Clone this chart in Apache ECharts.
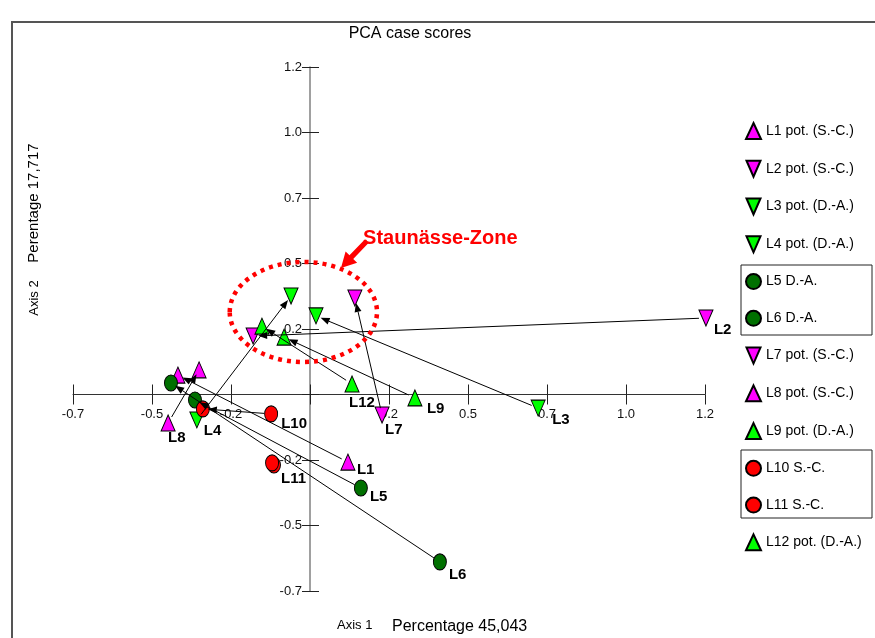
<!DOCTYPE html>
<html><head><meta charset="utf-8">
<script src="https://cdn.jsdelivr.net/npm/echarts@6/dist/echarts.min.js"></script>
<style>html,body{margin:0;padding:0;background:#fff}#c{width:875px;height:638px}</style>
</head><body><div id="c"></div>
<script>
// ---- data ----
const sites = ['L1','L2','L3','L4','L5','L6','L7','L8','L9','L10','L11','L12'];
const legendNames = ['L1 pot. (S.-C.)','L2 pot. (S.-C.)','L3 pot. (D.-A.)','L4 pot. (D.-A.)','L5 D.-A.','L6 D.-A.','L7 pot. (S.-C.)','L8 pot. (S.-C.)','L9 pot. (D.-A.)','L10 S.-C.','L11 S.-C.','L12 pot. (D.-A.)'];
// labelled (current) case scores
const actualX = [0.120, 1.253, 0.722, -0.358, 0.161, 0.411, 0.228, -0.449, 0.332, -0.123, -0.114, 0.133];
const actualY = [-0.258, 0.292, -0.052, -0.097, -0.357, -0.639, -0.078, -0.109, -0.013, -0.074, -0.269, 0.040];
// potential case scores (arrow targets)
const potX = [-0.418, -0.180, 0.019, -0.060, -0.364, -0.440, 0.142, -0.351, -0.082, -0.339, -0.120, -0.152];
const potY = [0.074, 0.223, 0.300, 0.376, -0.021, 0.044, 0.368, 0.094, 0.219, -0.055, -0.261, 0.261];
const hasArrow = [1,1,1,1,1,1,1,1,1,1,0,1];
const axisTicks = [-0.75, -0.5, -0.25, 0, 0.25, 0.5, 0.75, 1.0, 1.25];
const annotationText = 'Staunässe-Zone';
const zone = {cx: -0.021, cy: 0.315, rx: 0.233, ry: 0.191};
const zoneArrow = {from: [0.180, 0.586], to: [0.098, 0.483]};
const zoneTextAt = [0.168, 0.597];

// ---- styles ----
const TRI_UP = 'triangle';
const TRI_DOWN = 'path://M0,0 L14,0 L7,16 Z';
const MAG = '#FF00FF', LIME = '#00FF00', DKG = '#007000', RED = '#FF0000';
const siteStyle = [
  [TRI_UP, MAG], [TRI_DOWN, MAG], [TRI_DOWN, LIME], [TRI_DOWN, LIME],
  ['circle', DKG], ['circle', DKG], [TRI_DOWN, MAG], [TRI_UP, MAG],
  [TRI_UP, LIME], ['circle', RED], ['circle', RED], [TRI_UP, LIME]
];
const labelOffset = [[9,8],[8,12],[14,12],[7,11],[9,9],[9,13],[3,15],[0,15],[12,11],[10,10],[7,14],[-3,19]];
const FONT = 'Liberation Sans, Arial, sans-serif';

function fmt(v){ if (Math.abs(v) < 1e-9) return ''; const t = Math.trunc(Math.round(v*100)/10)/10; return t.toFixed(1); }

const chart = echarts.init(document.getElementById('c'));
const series = sites.map((s, i) => ({
  type: 'scatter', name: legendNames[i], z: 3,
  symbol: siteStyle[i][0],
  symbolSize: siteStyle[i][0] === 'circle' ? [13,16] : [14,16],
  itemStyle: {color: siteStyle[i][1], borderColor: '#000', borderWidth: 1, opacity: 1},
  label: {show: true, position: 'inside', align: 'left', verticalAlign: 'middle',
    offset: labelOffset[i], fontFamily: FONT, fontWeight: 'bold', fontSize: 15, color: '#000',
    formatter: p => p.data[2]},
  emphasis: {disabled: true},
  clip: false,
  data: [[actualX[i], actualY[i], s], [potX[i], potY[i], '']]
}));
const arrowData = sites.map((s,i)=>[actualX[i], actualY[i], potX[i], potY[i]]).filter((d,i)=>hasArrow[i]);
series.push({
  type: 'custom', z: 4, clip: false, silent: true,
  encode: {x: [0,2], y: [1,3]},
  data: arrowData,
  renderItem(params, api){
    const a = api.coord([api.value(0), api.value(1)]);
    const b = api.coord([api.value(2), api.value(3)]);
    const dx = b[0]-a[0], dy = b[1]-a[1], L = Math.hypot(dx,dy), ux = dx/L, uy = dy/L;
    const sg = 7, eg = 5, hl = 9, hw = 3.5;
    const s = [a[0]+ux*sg, a[1]+uy*sg];
    const t = [b[0]-ux*eg, b[1]-uy*eg];
    const base = [t[0]-ux*hl, t[1]-uy*hl];
    return {type: 'group', children: [
      {type: 'line', shape: {x1: s[0], y1: s[1], x2: base[0], y2: base[1]}, style: {stroke: '#000', lineWidth: 1}},
      {type: 'polygon', shape: {points: [t, [base[0]-uy*hw, base[1]+ux*hw], [base[0]+uy*hw, base[1]-ux*hw]]}, style: {fill: '#000'}}
    ]};
  }
});

const axisCommon = {min: axisTicks[0], max: axisTicks[axisTicks.length-1], interval: 0.25, splitLine: {show: false}};
chart.setOption({
  animation: false,
  grid: {left: 73, right: 170, top: 67, bottom: 47},
  xAxis: [
    Object.assign({type: 'value', position: 'bottom', axisLine: {onZero: true, lineStyle: {color: '#333', width: 1}},
      axisTick: {length: 10, lineStyle: {color: '#222'}}, axisLabel: {show: false}}, axisCommon),
    Object.assign({type: 'value', position: 'top', axisLine: {show: false, onZero: true},
      axisTick: {length: 10, lineStyle: {color: '#222'}}, axisLabel: {show: false}}, axisCommon)
  ],
  yAxis: [
    Object.assign({type: 'value', position: 'left', axisLine: {onZero: true, lineStyle: {color: '#808080', width: 1.5}},
      axisTick: {length: 8, lineStyle: {color: '#222'}}, axisLabel: {show: false}}, axisCommon),
    Object.assign({type: 'value', position: 'right', axisLine: {show: false, onZero: true},
      axisTick: {length: 9, lineStyle: {color: '#222'}}, axisLabel: {show: false}}, axisCommon)
  ],
  legend: {orient: 'vertical', left: 745, top: 122, padding: 0, itemWidth: 15, itemHeight: 16, itemGap: 19.76,
    selectedMode: false, data: legendNames,
    textStyle: {fontSize: 14, color: '#000', fontFamily: FONT, lineHeight: 16}},
  series: series
});

// annotations and tick labels placed through the chart's own coordinate system
const P = v => chart.convertToPixel({gridIndex: 0}, v);
const c0 = P([zone.cx, zone.cy]), c1 = P([zone.cx + zone.rx, zone.cy + zone.ry]);
const af = P(zoneArrow.from), at = P(zoneArrow.to);
const adx = at[0]-af[0], ady = at[1]-af[1], aL = Math.hypot(adx, ady), aux = adx/aL, auy = ady/aL;
const headL = 15, headW = 8, shaftW = 2.6;
const hb = [at[0]-aux*headL, at[1]-auy*headL];
const nx = -auy, ny = aux;
const arrowPts = [
  [af[0]+nx*shaftW, af[1]+ny*shaftW], [hb[0]+nx*shaftW, hb[1]+ny*shaftW], [hb[0]+nx*headW, hb[1]+ny*headW],
  at, [hb[0]-nx*headW, hb[1]-ny*headW], [hb[0]-nx*shaftW, hb[1]-ny*shaftW], [af[0]-nx*shaftW, af[1]-ny*shaftW]
];
const tp = P(zoneTextAt);
const tickLabels = [];
axisTicks.forEach(v => {
  if (Math.abs(v) < 1e-9) return;
  const px = P([v, 0]);
  tickLabels.push({type: 'text', z: 1, x: px[0], y: px[1] + 13, silent: true,
    style: {text: fmt(v), fontSize: 13, fontFamily: FONT, fill: '#111', align: 'center', verticalAlign: 'top'}});
  const py = P([0, v]);
  tickLabels.push({type: 'text', z: 1, x: py[0] - 8, y: py[1], silent: true,
    style: {text: fmt(v), fontSize: 13, fontFamily: FONT, fill: '#111', align: 'right', verticalAlign: 'middle'}});
});
chart.setOption({graphic: tickLabels.concat([
  {type: 'rect', shape: {x: 12, y: 22, width: 900, height: 700}, style: {fill: 'none', stroke: '#555', lineWidth: 2}, silent: true},
  {type: 'text', x: 410, y: 34, style: {text: 'PCA case scores', fontSize: 16, fontFamily: FONT, fill: '#000', align: 'center', verticalAlign: 'middle'}},
  {type: 'text', x: 337, y: 625, style: {text: 'Axis 1', fontSize: 13, fontFamily: FONT, fill: '#000', align: 'left', verticalAlign: 'middle'}},
  {type: 'text', x: 392, y: 627, style: {text: 'Percentage 45,043', fontSize: 16, fontFamily: FONT, fill: '#000', align: 'left', verticalAlign: 'middle'}},
  {type: 'text', x: 34, y: 298, rotation: Math.PI/2, style: {text: 'Axis 2', fontSize: 13, fontFamily: FONT, fill: '#000', align: 'center', verticalAlign: 'middle'}},
  {type: 'text', x: 34, y: 203, rotation: Math.PI/2, style: {text: 'Perentage 17,717', fontSize: 15, fontFamily: FONT, fill: '#000', align: 'center', verticalAlign: 'middle'}},
  {type: 'rect', shape: {x: 741, y: 265, width: 131, height: 70}, style: {fill: 'none', stroke: '#222', lineWidth: 1}, silent: true},
  {type: 'rect', shape: {x: 741, y: 450, width: 131, height: 68}, style: {fill: 'none', stroke: '#222', lineWidth: 1}, silent: true},
  {type: 'ellipse', z: 100, shape: {cx: c0[0], cy: c0[1], rx: c1[0]-c0[0], ry: c0[1]-c1[1]}, style: {fill: 'none', stroke: '#FF0000', lineWidth: 4.5, lineDash: [4,5]}, silent: true},
  {type: 'polygon', z: 100, shape: {points: arrowPts}, style: {fill: '#FF0000'}, silent: true},
  {type: 'text', z: 100, x: tp[0], y: tp[1], style: {text: annotationText, fontSize: 20, fontWeight: 'bold', fontFamily: FONT, fill: '#FF0000', align: 'left', verticalAlign: 'middle'}}
])});
</script></body></html>
